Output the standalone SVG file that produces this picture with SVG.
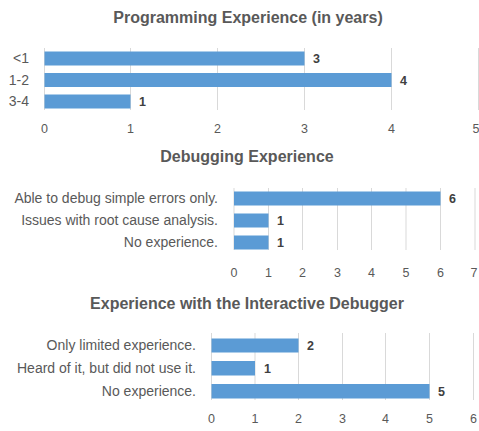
<svg xmlns="http://www.w3.org/2000/svg" width="479" height="431" viewBox="0 0 479 431">
<style>
.title{font-family:"Liberation Sans",Arial,sans-serif;font-weight:bold;font-size:16px;fill:#595959;text-anchor:middle}
.cat{font-family:"Liberation Sans",Arial,sans-serif;font-size:14px;fill:#595959;text-anchor:end}
.tick{font-family:"Liberation Sans",Arial,sans-serif;font-size:12.5px;fill:#595959;text-anchor:middle}
.val{font-family:"Liberation Sans",Arial,sans-serif;font-weight:bold;font-size:12.5px;fill:#404040}
.grid{stroke:#D9D9D9;stroke-width:1}
.bar{fill:#5B9BD5}
</style>
<rect width="479" height="431" fill="#fff"/>

<g id="chart1">
<text class="title" x="248" y="23">Programming Experience (in years)</text>
<g class="grid">
<line x1="44.5" y1="48" x2="44.5" y2="110"/>
<line x1="130.5" y1="48" x2="130.5" y2="110"/>
<line x1="217.5" y1="48" x2="217.5" y2="110"/>
<line x1="304.5" y1="48" x2="304.5" y2="110"/>
<line x1="391.5" y1="48" x2="391.5" y2="110"/>
<line x1="478.5" y1="48" x2="478.5" y2="110"/>
</g>
<rect class="bar" x="44.5" y="51.5" width="260" height="14"/>
<rect class="bar" x="44.5" y="73" width="347" height="14"/>
<rect class="bar" x="44.5" y="94.5" width="86" height="14"/>
<text class="cat" x="29" y="63">&lt;1</text>
<text class="cat" x="29" y="84.5">1-2</text>
<text class="cat" x="29" y="106">3-4</text>
<text class="val" x="313" y="63">3</text>
<text class="val" x="400" y="84.5">4</text>
<text class="val" x="139" y="106">1</text>
<text class="tick" x="44.5" y="133">0</text>
<text class="tick" x="130.5" y="133">1</text>
<text class="tick" x="217.5" y="133">2</text>
<text class="tick" x="304.5" y="133">3</text>
<text class="tick" x="391.5" y="133">4</text>
<text class="tick" x="476" y="133">5</text>
</g>

<g id="chart2">
<text class="title" x="247" y="162">Debugging Experience</text>
<g class="grid">
<line x1="234" y1="188" x2="234" y2="250"/>
<line x1="268.5" y1="188" x2="268.5" y2="250"/>
<line x1="302.5" y1="188" x2="302.5" y2="250"/>
<line x1="337.5" y1="188" x2="337.5" y2="250"/>
<line x1="371.5" y1="188" x2="371.5" y2="250"/>
<line x1="406" y1="188" x2="406" y2="250"/>
<line x1="440.5" y1="188" x2="440.5" y2="250"/>
<line x1="475" y1="188" x2="475" y2="250"/>
</g>
<rect class="bar" x="234" y="191.5" width="206.5" height="14"/>
<rect class="bar" x="234" y="213.5" width="34.5" height="14"/>
<rect class="bar" x="234" y="235.5" width="34.5" height="14"/>
<text class="cat" x="218" y="203">Able to debug simple errors only.</text>
<text class="cat" x="218" y="225">Issues with root cause analysis.</text>
<text class="cat" x="218" y="247">No experience.</text>
<text class="val" x="449" y="203">6</text>
<text class="val" x="277" y="225">1</text>
<text class="val" x="277" y="247">1</text>
<text class="tick" x="234" y="277">0</text>
<text class="tick" x="268.5" y="277">1</text>
<text class="tick" x="302.5" y="277">2</text>
<text class="tick" x="337.5" y="277">3</text>
<text class="tick" x="371.5" y="277">4</text>
<text class="tick" x="406" y="277">5</text>
<text class="tick" x="440.5" y="277">6</text>
<text class="tick" x="474" y="277">7</text>
</g>

<g id="chart3">
<text class="title" x="247" y="309">Experience with the Interactive Debugger</text>
<g class="grid">
<line x1="211.5" y1="333" x2="211.5" y2="400"/>
<line x1="255" y1="333" x2="255" y2="400"/>
<line x1="298.5" y1="333" x2="298.5" y2="400"/>
<line x1="342.5" y1="333" x2="342.5" y2="400"/>
<line x1="385.5" y1="333" x2="385.5" y2="400"/>
<line x1="429.5" y1="333" x2="429.5" y2="400"/>
<line x1="473.5" y1="333" x2="473.5" y2="400"/>
</g>
<rect class="bar" x="211.5" y="338.5" width="87" height="14"/>
<rect class="bar" x="211.5" y="361" width="43.5" height="14.5"/>
<rect class="bar" x="211.5" y="384" width="218" height="14.5"/>
<text class="cat" x="196" y="350">Only limited experience.</text>
<text class="cat" x="196" y="373">Heard of it, but did not use it.</text>
<text class="cat" x="196" y="396">No experience.</text>
<text class="val" x="307" y="350">2</text>
<text class="val" x="264" y="373">1</text>
<text class="val" x="438" y="396">5</text>
<text class="tick" x="211.5" y="423">0</text>
<text class="tick" x="255" y="423">1</text>
<text class="tick" x="298.5" y="423">2</text>
<text class="tick" x="342.5" y="423">3</text>
<text class="tick" x="385.5" y="423">4</text>
<text class="tick" x="429.5" y="423">5</text>
<text class="tick" x="473.5" y="423">6</text>
</g>
</svg>
